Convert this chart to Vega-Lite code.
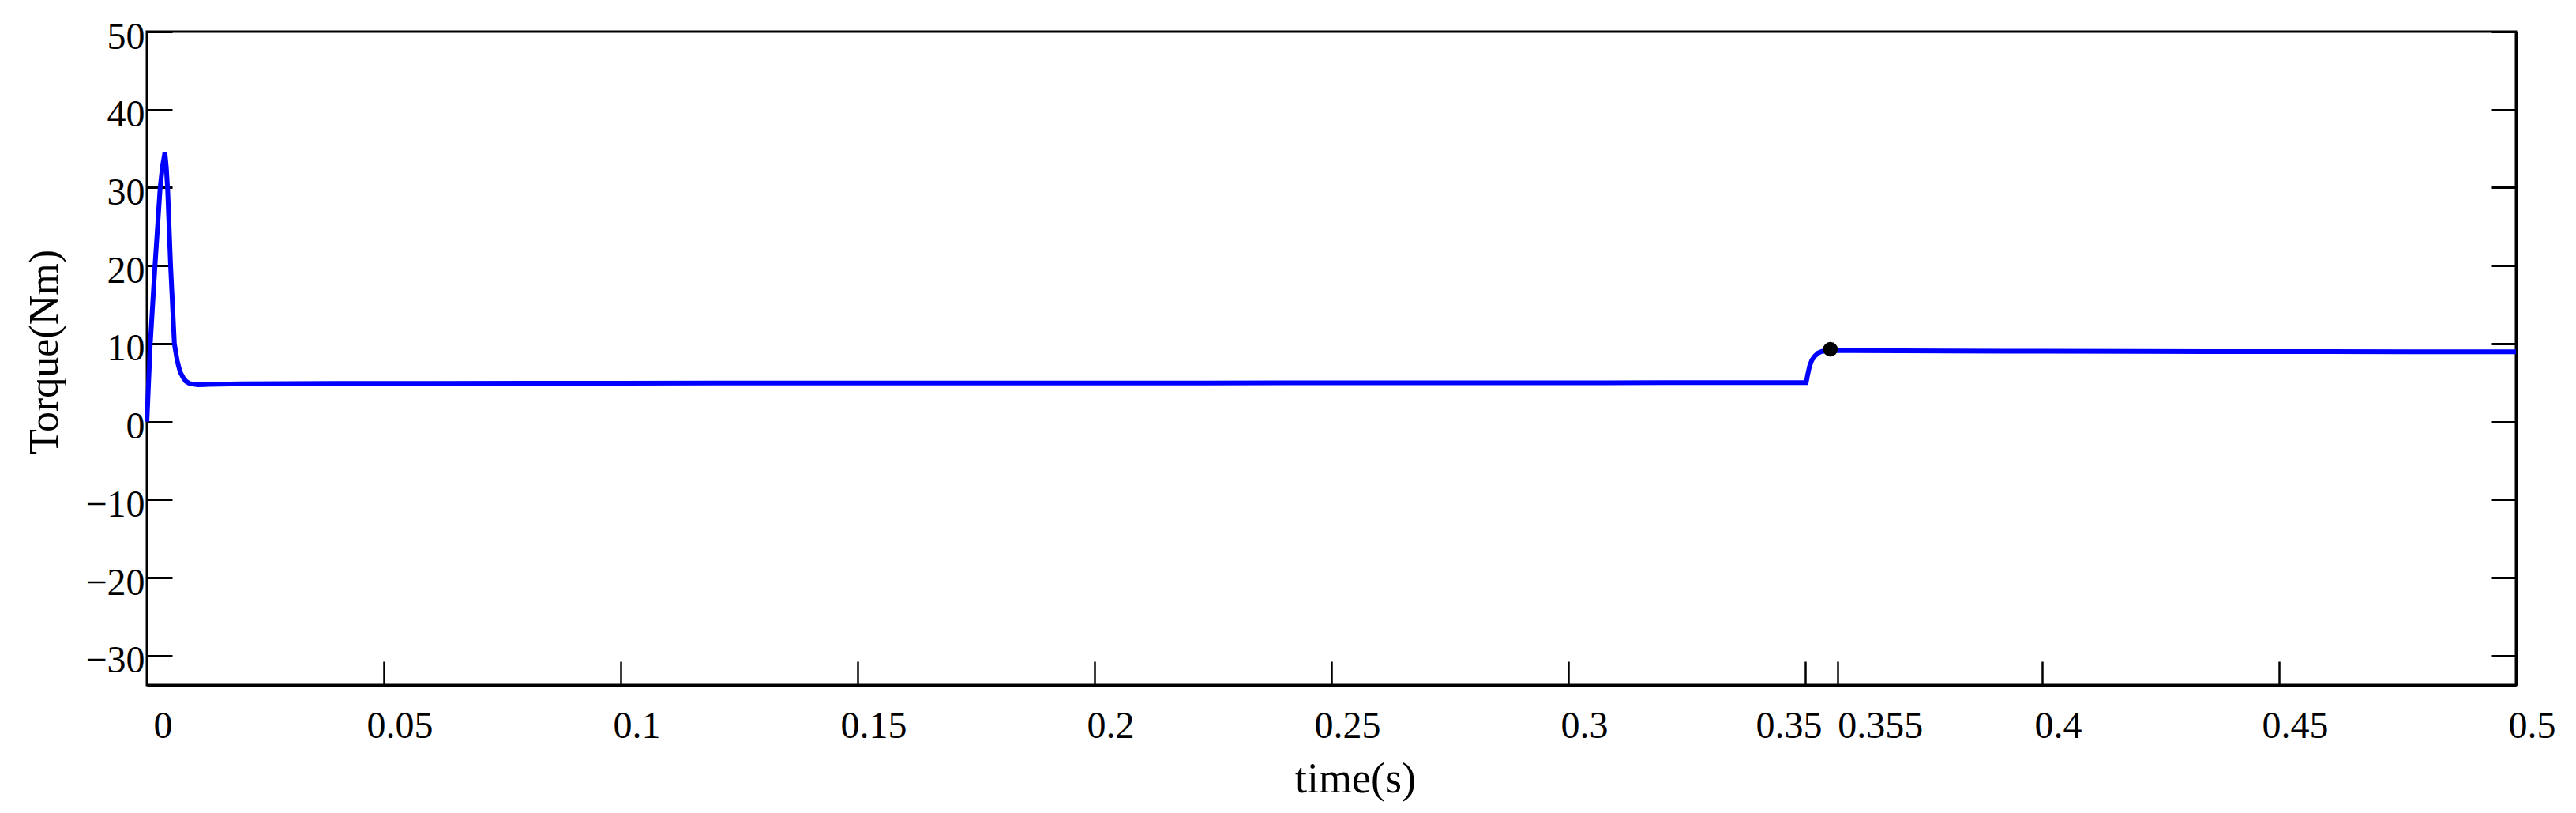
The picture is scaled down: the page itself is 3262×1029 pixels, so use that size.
{
  "$schema": "https://vega.github.io/schema/vega-lite/v6.json",
  "width": 3000,
  "height": 827,
  "autosize": {"type": "none"},
  "padding": {"left": 186, "top": 40, "right": 76, "bottom": 162},
  "background": "white",
  "config": {
    "view": {"stroke": "black", "strokeWidth": 3},
    "axis": {"domainColor": "black", "tickColor": "black", "labelColor": "black", "titleColor": "black", "grid": false}
  },
  "datasets": {
    "torque": [
      {"t": 0, "v": 0},
      {"t": 0.0007, "v": 9.8},
      {"t": 0.0017, "v": 19.9},
      {"t": 0.0028, "v": 30.0},
      {"t": 0.0033, "v": 32.8},
      {"t": 0.0038, "v": 34.5},
      {"t": 0.0041, "v": 32.6},
      {"t": 0.0044, "v": 29.5},
      {"t": 0.005, "v": 20.0},
      {"t": 0.0058, "v": 10.0},
      {"t": 0.0064, "v": 7.8},
      {"t": 0.007, "v": 6.4},
      {"t": 0.0076, "v": 5.7},
      {"t": 0.0082, "v": 5.2},
      {"t": 0.009, "v": 4.9},
      {"t": 0.0107, "v": 4.73},
      {"t": 0.013, "v": 4.78},
      {"t": 0.02, "v": 4.86},
      {"t": 0.04, "v": 4.9},
      {"t": 0.06, "v": 4.92},
      {"t": 0.08, "v": 4.93},
      {"t": 0.1, "v": 4.94},
      {"t": 0.12, "v": 4.95},
      {"t": 0.14, "v": 4.95},
      {"t": 0.16, "v": 4.96},
      {"t": 0.18, "v": 4.96},
      {"t": 0.2, "v": 4.97},
      {"t": 0.22, "v": 4.97},
      {"t": 0.24, "v": 4.98},
      {"t": 0.26, "v": 4.98},
      {"t": 0.28, "v": 4.99},
      {"t": 0.3, "v": 4.99},
      {"t": 0.32, "v": 5.0},
      {"t": 0.34, "v": 5.0},
      {"t": 0.3502, "v": 5.02},
      {"t": 0.3505, "v": 6.0},
      {"t": 0.3509, "v": 7.1},
      {"t": 0.3514, "v": 7.9},
      {"t": 0.352, "v": 8.4},
      {"t": 0.3527, "v": 8.8},
      {"t": 0.3535, "v": 9.02},
      {"t": 0.3553, "v": 9.12},
      {"t": 0.36, "v": 9.1},
      {"t": 0.38, "v": 9.07},
      {"t": 0.4, "v": 9.03},
      {"t": 0.42, "v": 9.01},
      {"t": 0.44, "v": 8.99},
      {"t": 0.46, "v": 8.98},
      {"t": 0.48, "v": 8.96},
      {"t": 0.5, "v": 8.95}
    ],
    "marker": [{"t": 0.3553, "v": 9.29}]
  },
  "layer": [
    {
      "data": {"name": "torque"},
      "mark": {"type": "line", "color": "#0000ff", "strokeWidth": 6},
      "encoding": {
        "x": {
          "field": "t", "type": "quantitative",
          "scale": {"domain": [0, 0.5], "nice": false, "zero": false},
          "axis": {
            "orient": "bottom",
            "values": [0, 0.05, 0.1, 0.15, 0.2, 0.25, 0.3, 0.35, 0.3568, 0.4, 0.45, 0.5],
            "labelExpr": "abs(datum.value - 0.3568) < 0.0001 ? '0.355' : format(datum.value, '.2~f')",
            "tickSize": -30,
            "tickWidth": 2.5,
            "domainWidth": 3,
            "labelFont": "Liberation Serif",
            "labelFontSize": 48,
            "labelBaseline": "alphabetic",
            "labelPadding": 96,
            "labelFlush": false,
            "labelOverlap": false,
            "labelAlign": {"condition": [{"test": "datum.value == 0.35", "value": "right"}, {"test": "datum.value > 0.356 && datum.value < 0.358", "value": "left"}], "value": "center"},
            "labelOffset": {"condition": [{"test": "datum.value == 0.35", "value": 21}, {"test": "datum.value > 0.356 && datum.value < 0.358", "value": 0}], "value": 20},
            "title": "time(s)",
            "titleFont": "Liberation Serif",
            "titleFontSize": 54,
            "titleFontWeight": "normal",
            "titleX": 1530,
            "titleY": 135,
            "titleBaseline": "alphabetic",
            "titleAlign": "center"
          }
        },
        "y": {
          "field": "v", "type": "quantitative",
          "scale": {"domain": [-33.75, 50], "nice": false, "zero": false},
          "axis": {
            "orient": "left",
            "values": [-30, -20, -10, 0, 10, 20, 30, 40, 50],
            "tickSize": -32,
            "tickWidth": 3,
            "domainWidth": 3,
            "labelFont": "Liberation Serif",
            "labelFontSize": 48,
            "labelAlign": "right",
            "labelBaseline": "alphabetic",
            "labelOffset": 21,
            "labelPadding": 35,
            "labelFlush": false,
            "labelOverlap": false,
            "title": "Torque(Nm)",
            "titleFont": "Liberation Serif",
            "titleFontSize": 52,
            "titleFontWeight": "normal",
            "titleAngle": 270,
            "titleX": -114,
            "titleY": 405,
            "titleBaseline": "alphabetic",
            "titleAlign": "center"
          }
        }
      }
    },
    {
      "data": {"name": "marker"},
      "mark": {"type": "point", "filled": true, "color": "black", "size": 346, "opacity": 1},
      "encoding": {
        "x": {"field": "t", "type": "quantitative"},
        "y": {
          "field": "v", "type": "quantitative",
          "axis": {
            "orient": "right",
            "values": [-30, -20, -10, 0, 10, 20, 30, 40, 50],
            "tickSize": -32,
            "tickWidth": 3,
            "domainWidth": 3,
            "labels": false,
            "title": null
          }
        }
      }
    }
  ],
  "resolve": {"axis": {"y": "independent"}}
}
